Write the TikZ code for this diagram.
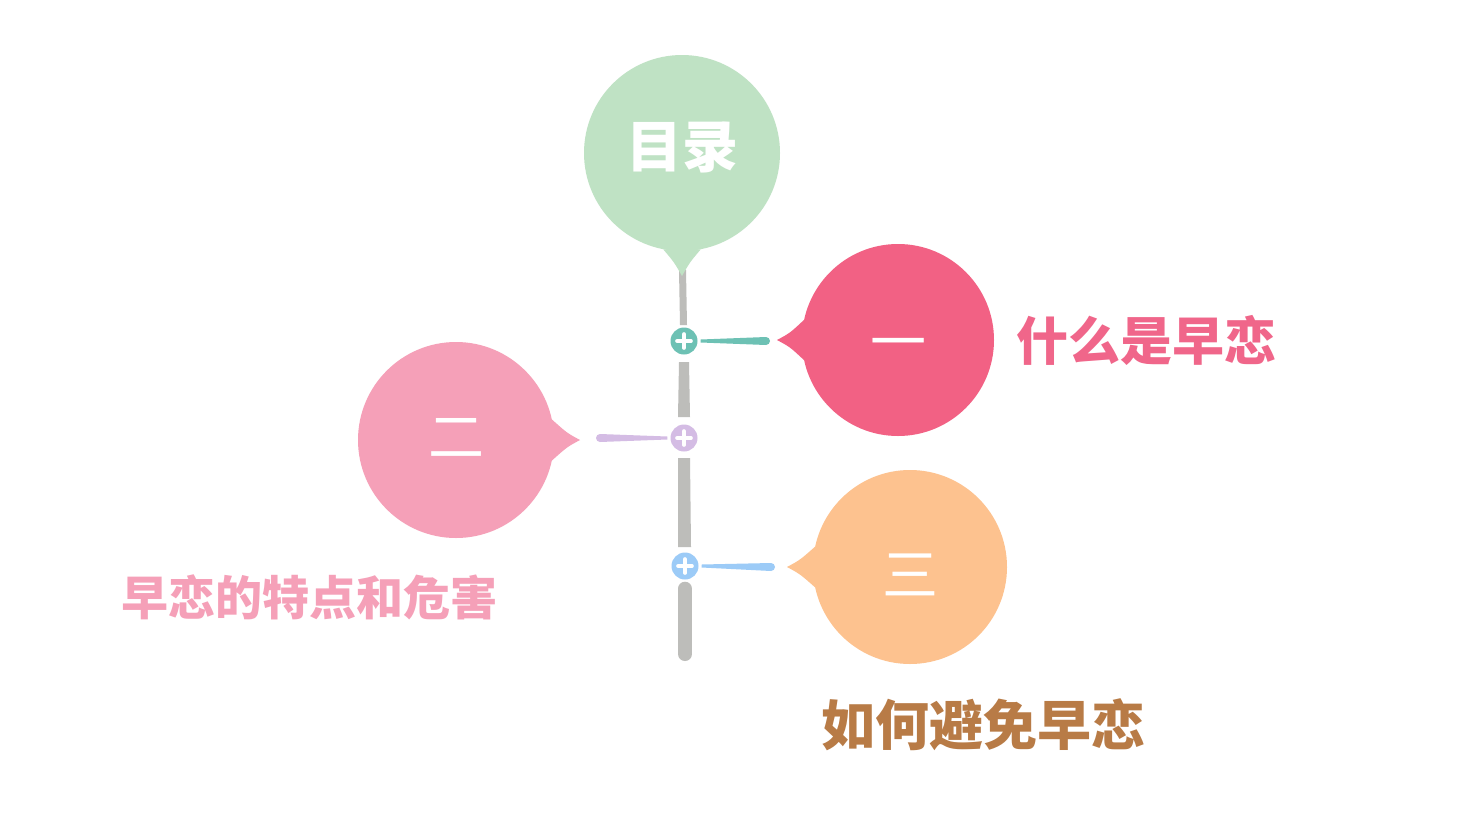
\documentclass[tikz,border=0pt]{standalone}
\usepackage{fontspec}
\newfontfamily\cjk{Noto Sans CJK SC}
\usetikzlibrary{calc}
\definecolor{cgreen}{HTML}{BFE2C4}
\definecolor{cred}{HTML}{F26184}
\definecolor{cpink}{HTML}{F5A0B8}
\definecolor{corange}{HTML}{FDC28F}
\definecolor{cgray}{HTML}{BDBDBA}
\definecolor{cteal}{HTML}{6DC1B4}
\definecolor{cpurple}{HTML}{D4BCE4}
\definecolor{cblue}{HTML}{9CCBF7}
\definecolor{tred}{HTML}{F0668A}
\definecolor{tpink}{HTML}{F5A0B8}
\definecolor{tbrown}{HTML}{B87B46}
\tikzset{
  balloon/.style={circle,inner sep=0pt,minimum size=#1},
  numeral/.style={inner sep=0pt,text=white,font=\cjk\fontsize{56}{60}\selectfont},
  plusdot/.style={circle,inner sep=0pt,minimum size=27pt,fill=#1},
  stem/.style={cgray,line width=#1},
  title/.style={font=\cjk\bfseries\fontsize{#1}{#1}\selectfont,inner sep=0pt,anchor=west}
}
\newcommand{\plussign}[1]{%
  \draw[white,line width=3.6pt,line cap=round] ($(#1)+(-7,0)$) -- ($(#1)+(7,0)$);
  \draw[white,line width=3.6pt,line cap=round] ($(#1)+(0,-7)$) -- ($(#1)+(0,7)$);}
\begin{document}
\begin{tikzpicture}[x=1pt,y=-1pt]
\useasboundingbox[fill=white] (0,0) rectangle (1467,825);

% stem
\coordinate (s0) at (682,276);
\node[plusdot=cteal] (p1) at (684,341) {};
\node[plusdot=cpurple] (p2) at (684,438) {};
\node[plusdot=cblue] (p3) at (685,566) {};
\coordinate (s1) at (685,654);
\fill[cgray] (679,270) -- (686,270) -- (687,325) -- (680,325) -- cycle;
\fill[cgray] (679,362) -- (689,362) -- (690,417) -- (678,417) -- cycle;
\fill[cgray] (678,458) -- (690,458) -- (691,547) -- (678,547) -- cycle;
\draw[stem=14pt,line cap=round] ($(p3.south)+(0,9)$) -- (s1);
\plussign{p1}\plussign{p2}\plussign{p3}

% top balloon
\node[balloon=196pt,fill=cgreen] (toc) at (682,153) {};
\node[numeral,font=\cjk\bfseries\fontsize{56}{60}\selectfont] (tt) at ($(toc)+(0,-6)$) {目录};
\fill[cgreen] (toc.-101) .. controls (674,262) .. (s0) .. controls (690,262) .. (toc.-79) -- cycle;

% balloon one
\node[balloon=192pt,fill=cred] (b1) at (898,340) {};
\node[numeral] (n1) at ($(b1)+(0,10)$) {一};
\coordinate (t1) at (777,340);
\fill[cred] (b1.168) .. controls (790,333) .. (t1) .. controls (790,347) .. (b1.192) -- cycle;
\fill[cteal] ($(p1.east)+(3,0)$) -- ($(p1.east)+(3,-1.5)$) -- (766,337) arc (-90:90:4) -- ($(p1.east)+(3,1.5)$) -- cycle;

% balloon two
\node[balloon=196pt,fill=cpink] (b2) at (456,440) {};
\node[numeral] (n2) at ($(b2)+(0,-2)$) {二};
\coordinate (t2) at (580,440);
\fill[cpink] (b2.12) .. controls (567,433) .. (t2) .. controls (567,447) .. (b2.-12) -- cycle;
\fill[cpurple] ($(p2.west)+(-3,0)$) -- ($(p2.west)+(-3,-1.5)$) -- (600,434) arc (-90:-270:4) -- ($(p2.west)+(-3,1.5)$) -- cycle;

% balloon three
\node[balloon=194pt,fill=corange] (b3) at (910,567) {};
\node[numeral] (n3) at ($(b3)+(0,8)$) {三};
\coordinate (t3) at (787,567);
\fill[corange] (b3.168) .. controls (800,560) .. (t3) .. controls (800,574) .. (b3.192) -- cycle;
\fill[cblue] ($(p3.east)+(3,0)$) -- ($(p3.east)+(3,-1.5)$) -- (771,563) arc (-90:90:4) -- ($(p3.east)+(3,1.5)$) -- cycle;

% titles
\node[title=52,text=tred] (l1) at (1016,340) {什么是早恋};
\node[title=47,text=tpink] (l2) at (121,597) {早恋的特点和危害};
\node[title=54,text=tbrown] (l3) at (821,725) {如何避免早恋};
\end{tikzpicture}
\end{document}
